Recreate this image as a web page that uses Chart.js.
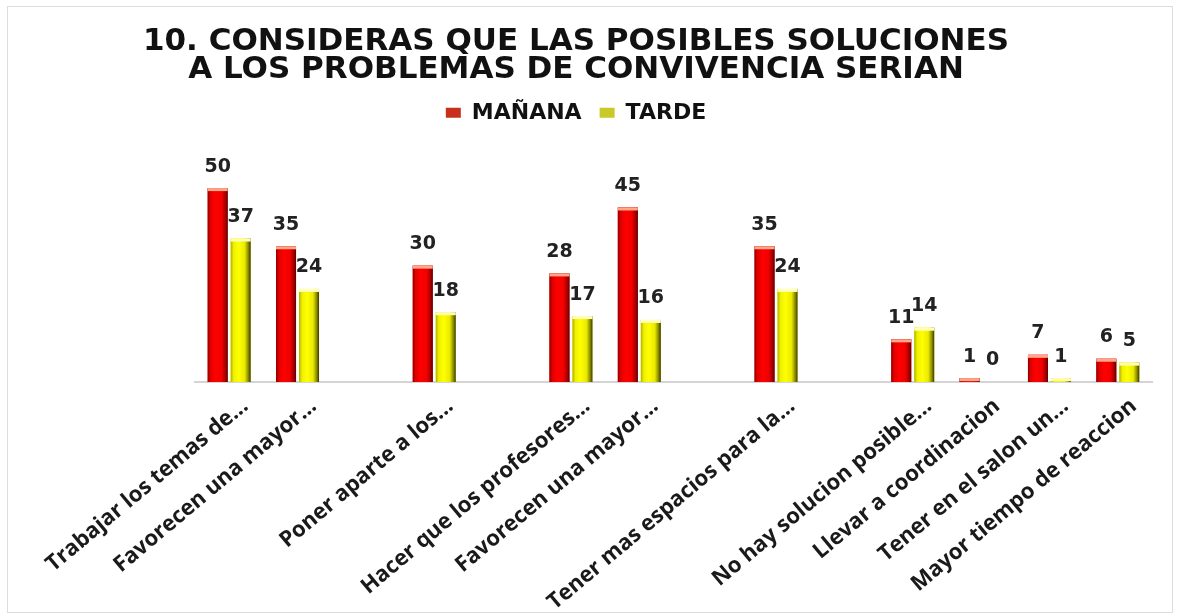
<!DOCTYPE html>
<html lang="es">
<head>
<meta charset="utf-8">
<title>Soluciones a los problemas de convivencia</title>
<script src="https://cdn.jsdelivr.net/npm/chart.js@4.4.1/dist/chart.umd.min.js"></script>
<style>
  html, body { margin: 0; padding: 0; background: #fff; }
  #marco { position: absolute; left: 7px; top: 6px; width: 1164px; height: 605px; border: 1px solid #dcdcdc; }
  #lienzo { position: absolute; left: 0; top: 0; }
</style>
</head>
<body>
<div id="marco"></div>
<canvas id="lienzo" width="1178" height="616"></canvas>
<script>
// Categorías del eje X (las cadenas vacías son los huecos del gráfico original)
const categorias = [
    "Trabajar los temas de...",
    "Favorecen una mayor...",
    "",
    "Poner aparte a los...",
    "",
    "Hacer que los profesores...",
    "Favorecen una mayor...",
    "",
    "Tener mas espacios para la...",
    "",
    "No hay solucion posible...",
    "Llevar a coordinacion",
    "Tener en el salon un...",
    "Mayor tiempo de reaccion"
];

// Valores de cada turno
const manana = [50, 35, null, 30, null, 28, 45, null, 35, null, 11, 1, 7, 6];
const tarde  = [37, 24, null, 18, null, 17, 16, null, 24, null, 14, 0, 1, 5];

const series = ["MAÑANA", "TARDE"];
const titulo = ["10. CONSIDERAS QUE LAS POSIBLES SOLUCIONES", "A LOS PROBLEMAS DE CONVIVENCIA SERIAN"];

// Degradados para simular las barras cilíndricas
const degradados = [
    [[0, "#8e0000"], [0.14, "#e00000"], [0.4, "#ff0000"], [0.7, "#f20000"], [0.9, "#a00000"], [1, "#5a0000"]],
    [[0, "#b0b000"], [0.15, "#f0f000"], [0.4, "#ffff00"], [0.7, "#eaea00"], [0.88, "#8a8a00"], [1, "#3a3a00"]]
];
const tapas = ["#ffa98a", "#ffffb8"];
const coloresLeyenda = ["#c8301c", "#c9c92a"];

// Plugin: sombreado de las barras y etiquetas de valores
const barrasPlugin = {
    id: "barrasCilindro",
    afterDatasetsDraw(chart) {
        const ctx = chart.ctx;
        chart.data.datasets.forEach((ds, i) => {
            const meta = chart.getDatasetMeta(i);
            meta.data.forEach((el, j) => {
                const valor = ds.data[j];
                if (valor === null) return;
                const p = el.getProps(["x", "y", "base", "width"], true);
                const izq = p.x - p.width / 2;
                const alto = p.base - p.y;
                ctx.save();
                if (alto > 0) {
                    const g = ctx.createLinearGradient(izq, 0, izq + p.width, 0);
                    degradados[i].forEach(s => g.addColorStop(s[0], s[1]));
                    ctx.fillStyle = g;
                    ctx.fillRect(izq, p.y, p.width, alto);
                    ctx.fillStyle = tapas[i];
                    ctx.fillRect(izq, p.y, p.width, Math.min(3, alto));
                }
                // etiqueta con el valor
                ctx.fillStyle = "#222";
                ctx.font = "bold 19px 'DejaVu Sans'";
                ctx.textAlign = "center";
                ctx.textBaseline = "bottom";
                ctx.fillText(String(valor), p.x, p.y - 12);
                ctx.restore();
            });
        });
    }
};

const ctx = document.getElementById("lienzo").getContext("2d");
new Chart(ctx, {
    type: "bar",
    data: {
        labels: categorias,
        datasets: [
            { label: series[0], data: manana, backgroundColor: "#ff0000" },
            { label: series[1], data: tarde, backgroundColor: "#ffff00" }
        ]
    },
    options: {
        responsive: false,
        animation: false,
        categoryPercentage: 0.673,
        barPercentage: 0.87,
        layout: { padding: { left: 0, right: 26, top: 0, bottom: 0 } },
        plugins: {
            tooltip: { enabled: false },
            title: {
                display: true,
                text: titulo,
                color: "#111",
                font: { family: "'DejaVu Sans'", size: 31, weight: "bold", lineHeight: 0.9 },
                padding: { top: 28, bottom: 0 }
            },
            legend: {
                display: true,
                labels: {
                    color: "#111",
                    font: { family: "'DejaVu Sans'", size: 22, weight: "bold" },
                    boxWidth: 15,
                    boxHeight: 10,
                    padding: 18,
                    generateLabels(chart) {
                        const items = Chart.defaults.plugins.legend.labels.generateLabels(chart);
                        items.forEach((it, k) => { it.fillStyle = coloresLeyenda[k]; it.strokeStyle = coloresLeyenda[k]; it.lineWidth = 0; });
                        return items;
                    }
                }
            }
        },
        scales: {
            x: {
                grid: { display: false },
                border: { display: true, color: "#d4d4d4", width: 2 },
                ticks: {
                    autoSkip: false,
                    maxRotation: 40,
                    minRotation: 40,
                    labelOffset: 16,
                    color: "#1a1a1a",
                    font: { family: "'Open Sans'", size: 22, weight: "bold" }
                },
                afterFit(scale) { scale.height = 234; }
            },
            y: {
                min: 0,
                max: 64,
                grid: { display: false },
                border: { display: false },
                ticks: { display: false },
                afterFit(scale) { scale.width = 195; }
            }
        }
    },
    plugins: [barrasPlugin]
});
</script>
</body>
</html>
